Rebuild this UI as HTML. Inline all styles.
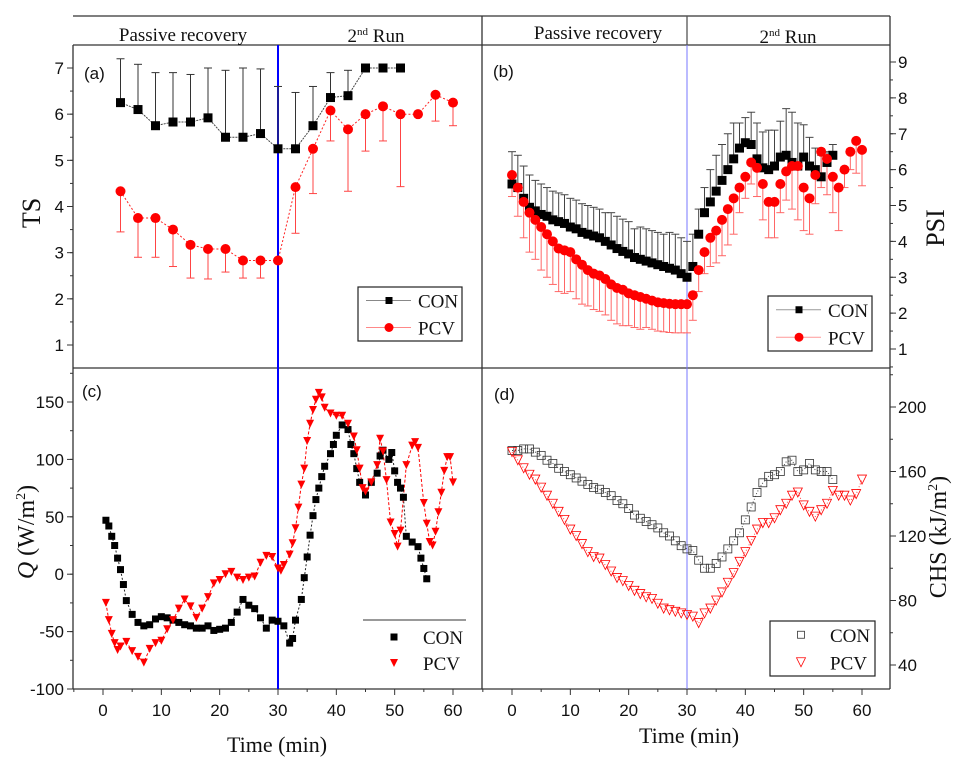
<!DOCTYPE html>
<html><head><meta charset="utf-8"><style>
body{margin:0;background:#fff;}
svg{display:block;}
text{font-family:"Liberation Sans",sans-serif;}
.serif{font-family:"Liberation Serif",serif;}
</style></head><body>
<svg id="chart" width="960" height="760" viewBox="0 0 960 760" xmlns="http://www.w3.org/2000/svg"></svg>
<script>
// ---- data ----
const tsTime=[3,6,9,12,15,18,21,24,27,30,33,36,39,42,45,48,51,54,57,60];
const tsCon=[6.25,6.1,5.75,5.83,5.83,5.92,5.5,5.5,5.58,5.25,5.25,5.75,6.36,6.4,7,7,7];
const tsConUp=[7.2,7.08,6.9,6.9,6.86,7.0,6.95,7.0,6.98,6.6,6.47,6.6,6.9,6.95,null,null,null];
const tsPcv=[4.33,3.75,3.75,3.5,3.17,3.08,3.08,2.83,2.83,2.83,4.42,5.25,6.08,5.67,6.0,6.17,6.0,6.0,6.42,6.25];
const tsPcvLo=[3.45,2.9,2.9,2.7,2.45,2.43,2.58,2.45,2.45,null,3.42,4.28,5.42,4.33,5.2,5.42,4.43,null,5.85,5.75];

const psiCon=[5.6,5.5,5.2,4.95,4.85,4.75,4.7,4.6,4.55,4.5,4.4,4.35,4.25,4.2,4.15,4.1,4.0,3.9,3.8,3.72,3.65,3.55,3.5,3.45,3.4,3.35,3.3,3.25,3.2,3.1,3.0,3.3,4.2,4.8,5.1,5.4,5.7,6.0,6.3,6.6,6.75,6.7,6.3,6.05,6.0,6.1,6.35,6.4,6.2,6.1,6.35,6.1,6.0,5.8,6.2,6.4];
const psiConErr=[0.9,0.9,0.9,0.9,0.85,0.85,0.8,0.8,0.8,0.8,0.8,0.8,0.8,0.8,0.8,0.8,0.8,0.9,0.9,0.9,0.9,0.8,0.9,0.9,0.9,0.9,0.9,1.0,1.0,1.0,1.0,0.9,0.7,0.7,0.9,1.0,1.0,1.0,1.0,0.7,0.7,0.9,1.0,1.0,1.1,1.0,1.0,1.3,1.4,1.2,0.9,0.8,0.6,0.6,0.3,0.3];
const psiPcv=[5.85,5.5,5.1,4.8,4.6,4.4,4.2,4.0,3.8,3.75,3.7,3.5,3.35,3.2,3.1,3.05,2.95,2.8,2.7,2.65,2.55,2.5,2.45,2.4,2.35,2.3,2.28,2.26,2.25,2.25,2.25,2.5,3.2,3.7,4.1,4.3,4.6,4.9,5.2,5.5,5.8,6.2,6.05,5.6,5.1,5.1,5.6,5.95,6.1,6.1,5.5,5.2,5.85,6.5,6.3,5.8,5.5,6.0,6.5,6.8,6.55];
const psiPcvErr=[0.6,0.8,1.0,1.1,1.1,1.2,1.2,1.2,1.2,1.2,1.1,1.1,1.1,1.0,1.0,1.0,1.0,1.0,1.0,1.0,0.9,0.9,0.9,0.8,0.8,0.8,0.8,0.8,0.8,0.8,0.8,0.7,0.6,0.6,0.8,0.9,1.0,1.0,1.0,0.7,0.6,0.6,0.8,1.0,1.0,1.0,0.8,0.8,1.2,1.5,1.2,1.0,0.8,1.0,1.0,1.0,1.2,0.5,0.5,0.9,1.0];

const qConT=[0.5,1,1.5,2,2.5,3,3.5,4,5,6,7,8,9,10,11,12,13,14,15,16,17,18,19,20,21,22,23,24,25,26,27,28,29,30,31,32,32.5,33,34,34.5,35,35.5,36,36.5,37,37.5,38,39,39.5,40,41,42,42.5,43,43.5,44,45,46,47,47.5,48,49,49.5,50,50.5,51,51.5,52,53,54,54.5,55,55.5];
const qCon=[47,42,33,25,14,4,-9,-23,-35,-42,-45,-44,-39,-37,-38,-40,-42,-44,-45,-47,-47,-45,-49,-48,-47,-42,-33,-22,-27,-30,-38,-47,-40,-41,-45,-60,-56,-40,-22,-3,15,34,51,65,75,85,94,105,113,121,130,126,113,105,92,80,69,80,88,103,108,100,106,90,80,75,67,33,28,24,14,5,-4];
const qPcvT=[0.5,1,1.5,2,2.5,3,4,5,6,7,8,9,10,11,12,13,14,15,16,17,18,19,20,21,22,23,24,25,26,27,28,29,30,30.5,31,32,32.5,33,33.5,34,34.5,35,35.5,36,36.5,37,37.5,38,39,40,41,42,43,43.5,44,44.5,45,46,47,47.5,48,48.6,49.3,50,50.5,51,52,53,53.5,54,55,55.5,56,56.5,57,57.5,58,58.5,59,59.5,60];
const qPcv=[-25,-40,-52,-60,-66,-63,-59,-67,-72,-77,-65,-60,-58,-48,-40,-30,-22,-28,-38,-30,-20,-8,-5,0,2,-3,-5,-3,-2,10,16,15,5,3,8,17,27,40,58,78,92,116,131,143,152,158,154,145,140,138,138,131,120,108,92,75,72,80,95,118,107,82,45,35,24,38,95,112,115,110,62,44,28,25,37,54,71,90,102,102,80];

const chsCon=[173,173,174,174,172,170,167,165,162,160,158,156,154,152,150,149,147,145,142,140,137,133,131,129,127,125,122,120,117,114,112,111,105,100,100,103,107,112,117,122,130,138,147,153,157,158,160,166,167,160,161,165,161,160,160,155];
const chsPcv=[172,167,162,158,155,150,145,140,135,130,124,120,115,110,107,106,102,98,94,92,89,86,84,82,81,78,75,74,73,72,71,70,66,72,75,80,85,91,97,104,110,117,124,128,128,131,136,140,145,147,139,135,132,136,140,148,145,145,142,146,155];

const xTicks=[0,10,20,30,40,50,60];
const tsTicks=[1,2,3,4,5,6,7];
const psiTicks=[1,2,3,4,5,6,7,8,9];
const qTicks=[-100,-50,0,50,100,150];
const chsTicks=[40,80,120,160,200];

// ---- helpers ----
const svg=document.getElementById('chart');
const NS='http://www.w3.org/2000/svg';
function mk(tag,attrs,parent){const e=document.createElementNS(NS,tag);for(const k in attrs)e.setAttribute(k,attrs[k]);(parent||svg).appendChild(e);return e;}
function lin(d0,d1,r0,r1){return v=>r0+(v-d0)*(r1-r0)/(d1-d0);}
const xL=lin(0,60,103,453), xR=lin(0,60,512,862);
const yA=lin(1,7,345,68), yB=lin(1,9,349,62), yC=lin(-100,150,689,402), yD=lin(40,200,665,407);
function seq(n,start){return Array.from({length:n},(_,i)=>start+i);}
function polyline(xs,ys,xf,yf,stroke,dash,w,name){
  const pts=xs.map((t,i)=>ys[i]==null?null:xf(t).toFixed(1)+','+yf(ys[i]).toFixed(1)).filter(Boolean).join(' ');
  const p=mk('polyline',{points:pts,fill:'none',stroke:stroke,'stroke-width':w||1,'stroke-dasharray':dash||'none'});
  
  
}
function marker(type,x,y,s,color,g){
  let e;
  if(type==='sq')e=mk('rect',{x:x-s/2,y:y-s/2,width:s,height:s,fill:color},g);
  else if(type==='osq')e=mk('rect',{x:x-s/2,y:y-s/2,width:s,height:s,fill:'none',stroke:color,'stroke-width':0.8},g);
  else if(type==='ci')e=mk('circle',{cx:x,cy:y,r:s/2,fill:color},g);
  else if(type==='tri')e=mk('polygon',{points:`${x-s/2},${y-s/2} ${x+s/2},${y-s/2} ${x},${y+s/2}`,fill:color},g);
  else e=mk('polygon',{points:`${x-s/2},${y-s/2} ${x+s/2},${y-s/2} ${x},${y+s/2}`,fill:'none',stroke:color,'stroke-width':0.8},g);
  
  
}
function markers(type,xs,ys,xf,yf,s,color,name){
  const g=mk('g',{});
  
  
  xs.forEach((t,i)=>{if(ys[i]!=null)marker(type,xf(t),yf(ys[i]),s,color,g);});
}
function errbars(xs,ys,ends,xf,yf,color,name,capColor){
  const g=mk('g',{stroke:color,'stroke-width':1});
  
  
  xs.forEach((t,i)=>{if(ys[i]==null||ends[i]==null)return;const x=xf(t);
    mk('line',{x1:x,y1:yf(ys[i]),x2:x,y2:yf(ends[i])},g);
    mk('line',{x1:x-4,y1:yf(ends[i]),x2:x+4,y2:yf(ends[i]),stroke:capColor||color},g);});
}
function txt(s,x,y,size,anchor,cls,name,rot){
  const t=mk('text',{x:x,y:y,'font-size':size,'text-anchor':anchor||'start',fill:'#111'});
  if(cls)t.setAttribute('class',cls);
  if(rot)t.setAttribute('transform',`rotate(${rot} ${x} ${y})`);
  t.textContent=s;
  
  
  return t;
}

// ---- frame ----
mk('rect',{x:0,y:0,width:960,height:760,fill:'#fff'});
const frame=mk('g',{stroke:'#333','stroke-width':1.3,fill:'none'});


mk('line',{x1:73,y1:16,x2:890,y2:16},frame);
mk('line',{x1:73,y1:45,x2:890,y2:45},frame);
mk('line',{x1:73,y1:45,x2:73,y2:689},frame);
mk('line',{x1:482,y1:16,x2:482,y2:689},frame);
mk('line',{x1:890,y1:16,x2:890,y2:689},frame);
mk('line',{x1:73,y1:368,x2:890,y2:368},frame);
mk('line',{x1:73,y1:689,x2:890,y2:689},frame);
mk('line',{x1:687,y1:16,x2:687,y2:45,stroke:'#555'},frame);
// phase lines
const pl=mk('line',{x1:278,y1:45,x2:278,y2:689,stroke:'#0000ff','stroke-width':2});

const pr=mk('line',{x1:687,y1:45,x2:687,y2:689,stroke:'#7777ff','stroke-width':1});


// header labels
txt('Passive recovery',183,41,19,'middle','serif','header-passive-recovery-left');
const h1=txt('2',376,42,19,'middle','serif','header-2nd-run-left');
h1.innerHTML='2<tspan font-size="11" dy="-7">nd</tspan><tspan dy="7"> Run</tspan>';
txt('Passive recovery',598,39,19,'middle','serif','header-passive-recovery-right');
const h2=txt('2',788,43,19,'middle','serif','header-2nd-run-right');
h2.innerHTML='2<tspan font-size="11" dy="-7">nd</tspan><tspan dy="7"> Run</tspan>';

// ---- axes ----
const ax=mk('g',{stroke:'#333','stroke-width':1});

function yTicksLeft(ticks,yf,step,y0,y1,name){
  ticks.forEach(v=>{mk('line',{x1:67,y1:yf(v),x2:73,y2:yf(v)},ax);txt(String(v),64,yf(v)+6,17,'end',null,name+'-tick-label');});
  for(let v=ticks[0]-step/2;v<=ticks[ticks.length-1]+step;v+=step/2){const y=yf(v);if(y>y0&&y<y1)mk('line',{x1:70,y1:y,x2:73,y2:y},ax);}
}
function yTicksRight(ticks,yf,step,y0,y1,name){
  ticks.forEach(v=>{mk('line',{x1:890,y1:yf(v),x2:896,y2:yf(v)},ax);txt(String(v),898,yf(v)+6,17,'start',null,name+'-tick-label');});
  for(let v=ticks[0]-step/2;v<=ticks[ticks.length-1]+step;v+=step/2){const y=yf(v);if(y>y0&&y<y1)mk('line',{x1:890,y1:y,x2:893,y2:y},ax);}
}
yTicksLeft(tsTicks,yA,1,46,367,'ts');
yTicksRight(psiTicks,yB,1,46,367,'psi');
yTicksLeft(qTicks,yC,50,369,688,'q');
yTicksRight(chsTicks,yD,40,369,688,'chs');
function xTicksBottom(xf,x0,x1,name){
  for(let v=-10;v<=70;v+=5){const x=xf(v);if(x<=x0||x>=x1)continue;const major=v%10===0;
    mk('line',{x1:x,y1:689,x2:x,y2:major?695:692},ax);
    if(major&&xTicks.includes(v))txt(String(v),x,716,17,'middle',null,name+'-tick-label');}
}
xTicksBottom(xL,73,482,'time-left');
xTicksBottom(xR,482,890,'time-right');

// axis titles
txt('TS',40,213,26,'middle','serif','y-axis-title-ts',-90);
const qt=txt('Q',34,532,24,'middle','serif','y-axis-title-q',-90);
qt.innerHTML='<tspan font-style="italic">Q</tspan> (W/m<tspan font-size="14" dy="-9">2</tspan><tspan dy="9">)</tspan>';
txt('PSI',944,228,26,'middle','serif','y-axis-title-psi',-90);
const ct=txt('CHS',946,537,24,'middle','serif','y-axis-title-chs',-90);
ct.innerHTML='CHS (kJ/m<tspan font-size="14" dy="-9">2</tspan><tspan dy="9">)</tspan>';
txt('Time (min)',277,752,22,'middle','serif','x-axis-title-left');
txt('Time (min)',689,743,22,'middle','serif','x-axis-title-right');

// panel letters
txt('(a)',84,79,17,'start',null,'panel-label-a');
txt('(b)',493,77,17,'start',null,'panel-label-b');
txt('(c)',82,397,17,'start',null,'panel-label-c');
txt('(d)',494,400,17,'start',null,'panel-label-d');

// ---- panel a ----
const tsConT=tsTime.slice(0,tsCon.length);
errbars(tsConT,tsCon,tsConUp,xL,yA,'#333','ts-con-error-bars');
errbars(tsTime,tsPcv,tsPcvLo,xL,yA,'#f44','ts-pcv-error-bars');
polyline(tsConT,tsCon,xL,yA,'#444','2,1',1,'ts-con-line');
polyline(tsTime,tsPcv,xL,yA,'#f22','2,2',1,'ts-pcv-line');
markers('sq',tsConT,tsCon,xL,yA,9,'#000','ts-con-points');
markers('ci',tsTime,tsPcv,xL,yA,10,'#f00','ts-pcv-points');

// ---- panel b ----
const psiConT=seq(psiCon.length,0), psiPcvT=seq(psiPcv.length,0);
errbars(psiConT,psiCon,psiCon.map((v,i)=>v+psiConErr[i]),xR,yB,'#444','psi-con-error-bars');
errbars(psiPcvT,psiPcv,psiPcv.map((v,i)=>v-psiPcvErr[i]),xR,yB,'#f66','psi-pcv-error-bars');
markers('sq',psiConT,psiCon,xR,yB,9,'#000','psi-con-points');
markers('ci',psiPcvT,psiPcv,xR,yB,10,'#f00','psi-pcv-points');

// ---- panel c ----
polyline(qConT,qCon,xL,yC,'#222','2,2',1,'q-con-line');
polyline(qPcvT,qPcv,xL,yC,'#f00','3,2',1,'q-pcv-line');
markers('sq',qConT,qCon,xL,yC,7,'#000','q-con-points');
markers('tri',qPcvT,qPcv,xL,yC,8,'#f00','q-pcv-points');

// ---- panel d ----
const chsConT=seq(chsCon.length,0), chsPcvT=seq(chsPcv.length,0);
polyline(chsConT,chsCon,xR,yD,'#444','1,2',1,'chs-con-line');
polyline(chsPcvT,chsPcv,xR,yD,'#f44','1,2',1,'chs-pcv-line');
markers('osq',chsConT,chsCon,xR,yD,8,'#333','chs-con-points');
markers('otri',chsPcvT,chsPcv,xR,yD,9,'#f00','chs-pcv-points');

// ---- legends ----
function legend(x,y,w,h,box,items,name){
  const g=mk('g',{});
  
  if(box)mk('rect',{x:x,y:y,width:w,height:h,fill:'#fff',stroke:'#222','stroke-width':1.2},g);
  items.forEach((it,i)=>{const cy=y+h*(i*2+1)/4;
    const e=mk('g',{},g);
    
    
    if(it.line)mk('line',{x1:x+8,y1:cy,x2:x+53,y2:cy,stroke:it.line,'stroke-width':1},e);
    marker(it.type,x+31,cy,it.s,it.color,e);
    const t=mk('text',{x:x+60,y:cy+7,'font-size':19,class:'serif',fill:'#111'},e);t.textContent=it.label;});
}
legend(358,287,104,54,true,[{label:'CON',type:'sq',s:7,color:'#000',line:'#888'},{label:'PCV',type:'ci',s:9,color:'#f00',line:'#f88'}],'legend-ts');
legend(768,296,104,55,true,[{label:'CON',type:'sq',s:7,color:'#000',line:'#999'},{label:'PCV',type:'ci',s:9,color:'#f00',line:'#f99'}],'legend-psi');
const lc=mk('line',{x1:363,y1:620,x2:466,y2:620,stroke:'#333','stroke-width':1});

legend(363,624,103,52,false,[{label:'CON',type:'sq',s:7,color:'#000'},{label:'PCV',type:'tri',s:8,color:'#f00'}],'legend-q');
legend(770,621,105,55,true,[{label:'CON',type:'osq',s:7,color:'#333'},{label:'PCV',type:'otri',s:9,color:'#f00'}],'legend-chs');
</script>
</body></html>
